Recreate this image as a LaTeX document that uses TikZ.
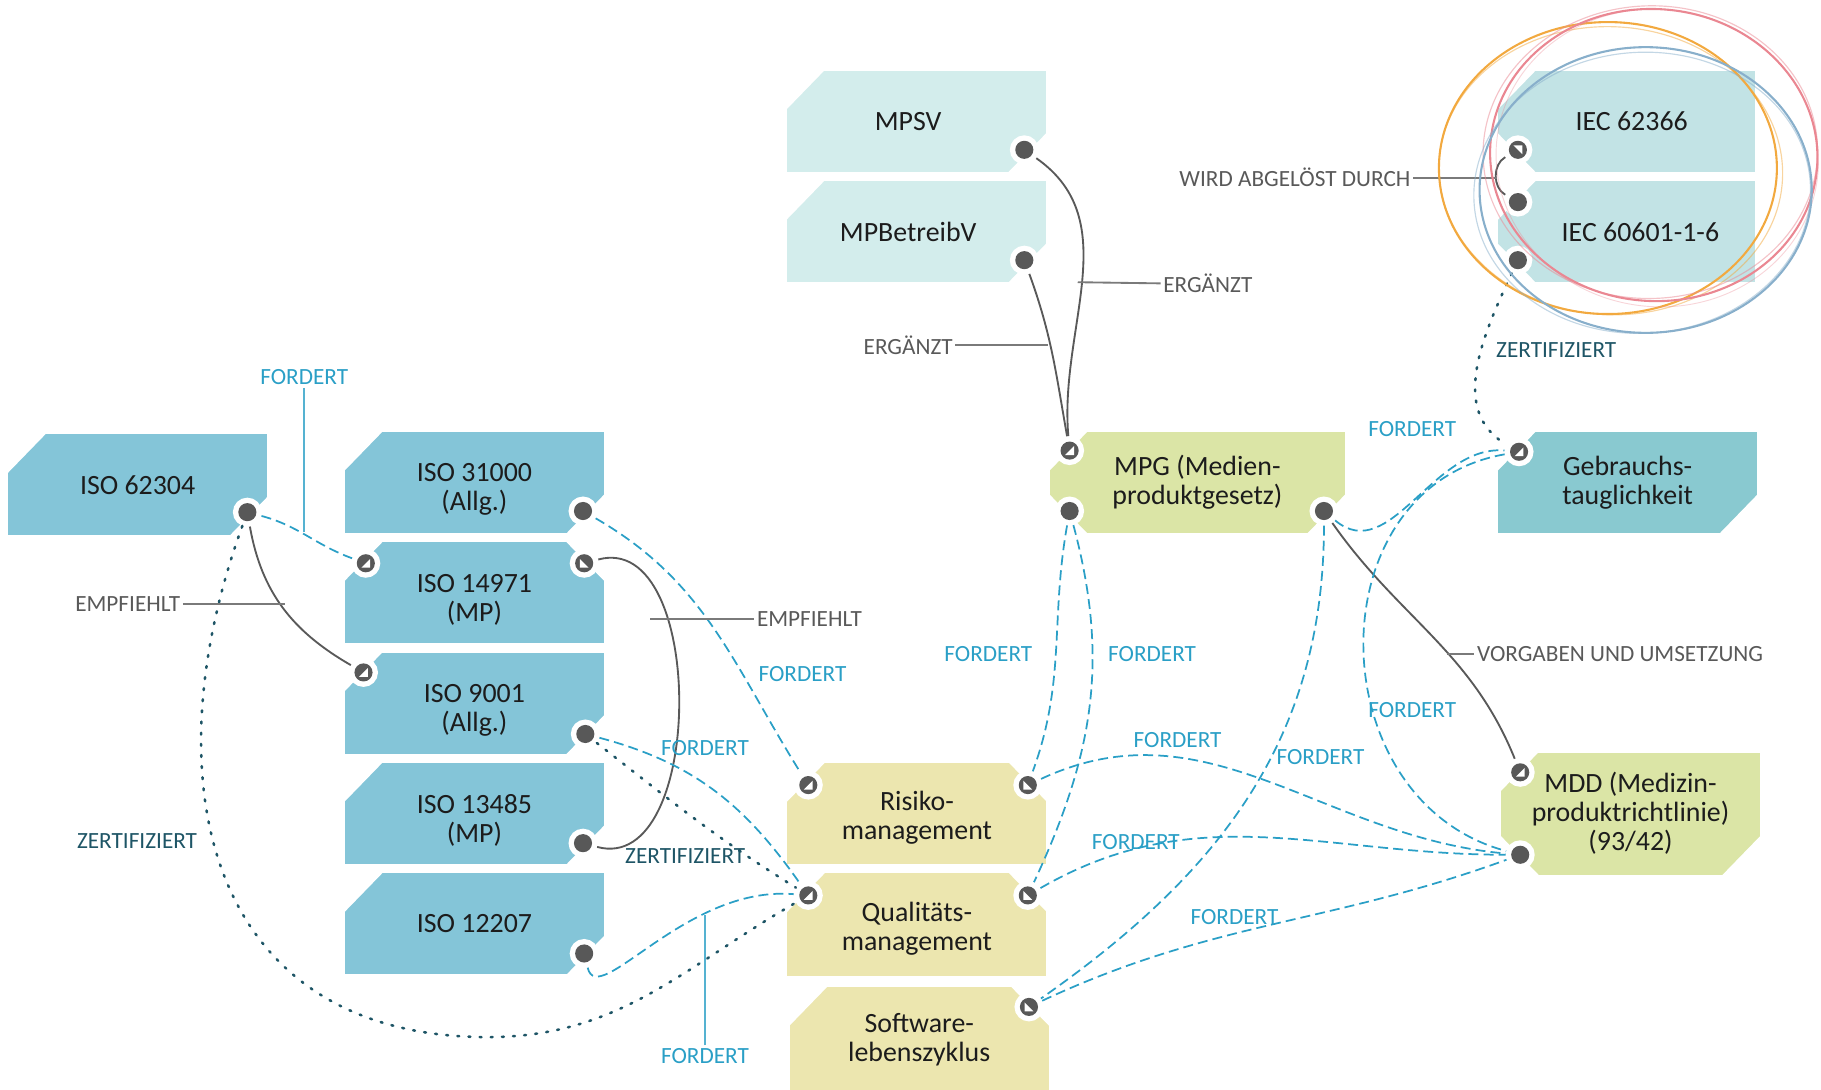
\documentclass[tikz,border=0pt]{standalone}
\usepackage{fontspec}
\setmainfont{Carlito}
\definecolor{isoblue}{HTML}{84C5D8}
\definecolor{mpcyan}{HTML}{D3EDEC}
\definecolor{ieccyan}{HTML}{C2E3E5}
\definecolor{gebrblue}{HTML}{89C9D0}
\definecolor{lawgreen}{HTML}{DBE5A6}
\definecolor{procyellow}{HTML}{ECE6AF}
\definecolor{dotgrey}{HTML}{585858}
\definecolor{boxtext}{HTML}{1C1C1C}
\definecolor{fordblue}{HTML}{2A9FC6}
\definecolor{zertteal}{HTML}{1E5566}
\definecolor{relgrey}{HTML}{595959}
\definecolor{ringorange}{HTML}{F2A93F}
\definecolor{ringred}{HTML}{EA8792}
\definecolor{ringblue}{HTML}{88AFCB}
\begin{document}
\begin{tikzpicture}[x=0.5pt,y=0.5pt,
		tagbox/.style={rectangle, inner sep=0pt, outer sep=0pt, minimum width=111.5pt, minimum height=43.5pt, align=center, text=boxtext, font=\fontsize{12}{12.5}\selectfont},
		portdot/.style={circle, fill=dotgrey, minimum size=7.8pt, inner sep=0pt, outer sep=2.4pt, preaction={draw=white, line width=4.6pt}},
		tipL/.style={portdot, path picture={\fill[white] ([shift={(1.9pt,-1.9pt)}]path picture bounding box.center) -- ++(0pt,3.8pt) -- ++(-3.8pt,-3.8pt) -- cycle;}},
		tipR/.style={portdot, path picture={\fill[white] ([shift={(-1.9pt,-1.9pt)}]path picture bounding box.center) -- ++(0pt,3.8pt) -- ++(3.8pt,-3.8pt) -- cycle;}},
		tipT/.style={portdot, path picture={\fill[white] ([shift={(1.9pt,1.9pt)}]path picture bounding box.center) -- ++(-3.8pt,0pt) -- ++(3.8pt,-3.8pt) -- cycle;}},
		fordert/.style={draw=fordblue, line width=0.75pt, dash pattern=on 4.3pt off 2.2pt},
		rel/.style={draw=relgrey, line width=0.8pt},
		zert/.style={draw=zertteal, line width=1.1pt, line cap=round, dash pattern=on 0.8pt off 4pt},
		calloutgrey/.style={draw=relgrey!80, line width=0.8pt},
		calloutblue/.style={draw=fordblue!80, line width=0.8pt},
		lblue/.style={text=fordblue, inner sep=1pt, font=\fontsize{10}{12}\selectfont},
		lgrey/.style={text=relgrey, inner sep=1pt, font=\fontsize{10}{12}\selectfont},
		lteal/.style={text=zertteal, inner sep=1pt, font=\fontsize{10}{12}\selectfont}]
	\useasboundingbox (0,0) rectangle (1568,-938);
		\node[tagbox, fill=isoblue] (iso62304) at (118.5,-417.5) {ISO 62304};
		\node[tagbox, fill=isoblue] (iso31000) at (408.5,-415.5) {\rule{0pt}{14pt}ISO 31000\\(Allg.)};
		\node[tagbox, fill=isoblue] (iso14971) at (408.5,-510.5) {\rule{0pt}{14pt}ISO 14971\\(MP)};
		\node[tagbox, fill=isoblue] (iso9001) at (408.5,-605.5) {\rule{0pt}{14pt}ISO 9001\\(Allg.)};
		\node[tagbox, fill=isoblue] (iso13485) at (408.5,-700.5) {\rule{0pt}{14pt}ISO 13485\\(MP)};
		\node[tagbox, fill=isoblue] (iso12207) at (408.5,-795.5) {ISO 12207};
		\node[tagbox, fill=mpcyan] (mpsv) at (789,-104.5) {MPSV\hspace{7pt}};
		\node[tagbox, fill=mpcyan] (mpbetreibv) at (789,-199.5) {MPBetreibV\hspace{7pt}};
		\node[tagbox, fill=lawgreen, minimum width=127pt] (mpg) at (1031,-415.5) {MPG (Medien-\\produktgesetz)};
		\node[tagbox, fill=ieccyan, minimum width=110.5pt] (iec62366) at (1400.5,-104.5) {\hspace{4.5pt}IEC 62366};
		\node[tagbox, fill=ieccyan, minimum width=110.5pt] (iec60601) at (1400.5,-199.5) {\hspace{12pt}IEC 60601-1-6};
		\node[tagbox, fill=gebrblue] (gebrauch) at (1401.5,-415.5) {Gebrauchs-\\tauglichkeit};
		\node[tagbox, fill=lawgreen, minimum height=52.5pt] (mdd) at (1404,-700.5) {MDD (Medizin-\\produktrichtlinie)\\(93/42)};
		\node[tagbox, fill=procyellow] (risiko) at (789.5,-700.5) {\rule{0pt}{12pt}Risiko-\\management};
		\node[tagbox, fill=procyellow, minimum height=44pt] (qual) at (789.5,-796) {\rule{0pt}{12pt}Qualitäts-\\management};
		\node[tagbox, fill=procyellow, minimum height=45pt] (software) at (791.5,-895) {Software-\\lebenszyklus};
		\foreach \bx in {iso62304,iso31000,iso14971,iso9001,iso13485,iso12207,mpsv,mpbetreibv,mpg,iec62366,iec60601,gebrauch,mdd,risiko,qual,software}
			\fill[white] ([shift={(-1,1)}]\bx.north west) -- ++(34,0) -- ++(-34,-35) -- cycle;
		\foreach \bx in {iso14971,risiko,qual,software}
			\fill[white] ([shift={(1,1)}]\bx.north east) -- ++(-34,0) -- ++(34,-35) -- cycle;
		\foreach \bx in {iso62304,iso31000,iso9001,iso13485,iso12207,mpsv,mpbetreibv,mpg,gebrauch,mdd}
			\fill[white] ([shift={(1,-1)}]\bx.south east) -- ++(-34,0) -- ++(34,35) -- cycle;
		\foreach \bx in {mpg,iec62366,iec60601,mdd}
			\fill[white] ([shift={(-1,-1)}]\bx.south west) -- ++(34,0) -- ++(-34,35) -- cycle;
		\node[portdot] (p62304) at (213,-441) {};
		\node[portdot] (p31000) at (502,-440) {};
		\node[tipL] (p14971l) at (315,-485) {};
		\node[tipR] (p14971r) at (503,-485) {};
		\node[tipL] (p9001l) at (313,-579) {};
		\node[portdot] (p9001r) at (504,-632) {};
		\node[portdot] (p13485) at (502,-726) {};
		\node[portdot] (p12207) at (503,-821) {};
		\node[portdot] (pmpsv) at (882,-129) {};
		\node[portdot] (pmpbv) at (882,-224) {};
		\node[tipL] (pmpgtl) at (921,-388) {};
		\node[portdot] (pmpgbl) at (921,-440) {};
		\node[portdot] (pmpgr) at (1140,-440) {};
		\node[tipT] (piec62366) at (1307,-129) {};
		\node[portdot] (piec60601t) at (1307,-174) {};
		\node[portdot] (piec60601b) at (1307,-224) {};
		\node[tipL] (pgebr) at (1308,-389) {};
		\node[tipL] (pmddt) at (1309,-665) {};
		\node[portdot] (pmddb) at (1309,-736) {};
		\node[tipL] (prisikol) at (696,-676) {};
		\node[tipR] (prisikor) at (885,-676) {};
		\node[tipL] (pquall) at (696,-771) {};
		\node[tipR] (pqualr) at (885,-771) {};
		\node[tipR] (psoftr) at (886,-867) {};
		\coordinate (zertlow) at (420,-893);
			\draw[fordert] (p62304) to[out=-15,in=160] (p14971l);
			\draw[rel] (p62304) to[out=-80,in=150] (p9001l);
			\draw[zert] (p62304) to[out=-110,in=180,looseness=1.25] (zertlow) to[out=0,in=-150] (pquall);
			\draw[fordert] (p31000) to[out=-30,in=122] (prisikol);
			\draw[rel] (p14971r) to[out=15,in=-15] (p13485);
			\draw[fordert] (p9001r) to[out=-15,in=125] (pquall);
			\draw[zert] (p9001r) to[out=-38,in=148] (pquall);
			\draw[fordert] (p12207) .. controls (515,-870) and (590,-762) .. (pquall);
			\draw[rel] (pmpsv) to[out=-35,in=95] (pmpgtl);
			\draw[rel] (pmpbv) to[out=-70,in=100] (pmpgtl);
			\draw[fordert] (pmpgbl) to[out=-100,in=70] (prisikor);
			\draw[fordert] (pmpgbl) to[out=-75,in=65] (pqualr);
			\draw[fordert] (pmpgr) to[out=-40,in=175] (pgebr);
			\draw[rel] (pmpgr) to[out=-55,in=112] (pmddt);
			\draw[fordert] (pmpgr) to[out=-90,in=35] (psoftr);
			\draw[fordert] (pgebr) to[out=190,in=165,looseness=1.25] (pmddb);
			\draw[fordert] (prisikor) to[out=25,in=175] (pmddb);
			\draw[fordert] (pqualr) to[out=30,in=180] (pmddb);
			\draw[fordert] (psoftr) to[out=25,in=200] (pmddb);
			\draw[rel] (piec62366) to[out=210,in=150] (piec60601t);
			\draw[zert] (piec60601b) to[out=-115,in=150] (pgebr);
		\node[lblue] (ford1) at (262,-325) {FORDERT};
		\node[lgrey] (empf1) at (110,-520) {EMPFIEHLT};
		\node[lteal] (zert1) at (118,-724) {ZERTIFIZIERT};
		\node[lblue] (ford2) at (691,-580) {FORDERT};
		\node[lgrey] (empf2) at (697,-533) {EMPFIEHLT};
		\node[lblue] (ford3) at (607,-644) {FORDERT};
		\node[lteal] (zert2) at (590,-737) {ZERTIFIZIERT};
		\node[lblue] (ford4) at (607,-909) {FORDERT};
		\node[lgrey] (erg1) at (1040,-244) {ERGÄNZT};
		\node[lgrey] (erg2) at (782,-297) {ERGÄNZT};
		\node[lblue] (ford5) at (851,-563) {FORDERT};
		\node[lblue] (ford6) at (992,-563) {FORDERT};
		\node[lblue] (ford7) at (1216,-369) {FORDERT};
		\node[lgrey] (vorg) at (1395,-563) {VORGABEN UND UMSETZUNG};
		\node[lblue] (ford8) at (1216,-611) {FORDERT};
		\node[lblue] (ford9) at (1137,-652) {FORDERT};
		\node[lblue] (ford10) at (1014,-637) {FORDERT};
		\node[lblue] (ford11) at (978,-725) {FORDERT};
		\node[lblue] (ford12) at (1063,-790) {FORDERT};
		\node[lgrey] (abgel) at (1115,-153) {WIRD ABGELÖST DURCH};
		\node[lteal] (zert3) at (1340,-301) {ZERTIFIZIERT};
		\coordinate (ford1e) at (262,-458);
		\coordinate (empf1e) at (245,-520);
		\coordinate (empf2e) at (560,-533);
		\coordinate (ford4e) at (607,-788);
		\coordinate (erg1e) at (928,-243);
		\coordinate (erg2e) at (902,-297);
		\coordinate (vorge) at (1246,-563);
		\coordinate (abgele) at (1289,-153);
			\draw[calloutblue] (ford1.south) -- (ford1e);
			\draw[calloutgrey] (empf1.east) -- (empf1e);
			\draw[calloutgrey] (empf2e) -- (empf2.west);
			\draw[calloutblue] (ford4.north) -- (ford4e);
			\draw[calloutgrey] (erg1e) -- (erg1.west);
			\draw[calloutgrey] (erg2.east) -- (erg2e);
			\draw[calloutgrey] (vorge) -- (vorg.west);
			\draw[calloutgrey] (abgel.east) -- (abgele);
		\draw[ringorange, line width=0.9pt] (1384.5,-144.7) ellipse [x radius=145.5, y radius=125.7];
		\draw[ringorange, line width=0.5pt, opacity=0.5] (1387,-147) ellipse [x radius=148, y radius=124, rotate=-3];
		\draw[ringred, line width=0.9pt] (1424,-133.5) ellipse [x radius=141, y radius=125.7, rotate=-4];
		\draw[ringred, line width=0.5pt, opacity=0.5] (1421,-131) ellipse [x radius=144, y radius=126, rotate=2];
		\draw[ringred, line width=0.4pt, opacity=0.35] (1427,-136) ellipse [x radius=139, y radius=128, rotate=-8];
		\draw[ringblue, line width=0.9pt] (1417,-163.6) ellipse [x radius=143, y radius=123];
		\draw[ringblue, line width=0.5pt, opacity=0.5] (1414,-166) ellipse [x radius=145, y radius=121, rotate=3];
\end{tikzpicture}
\end{document}
